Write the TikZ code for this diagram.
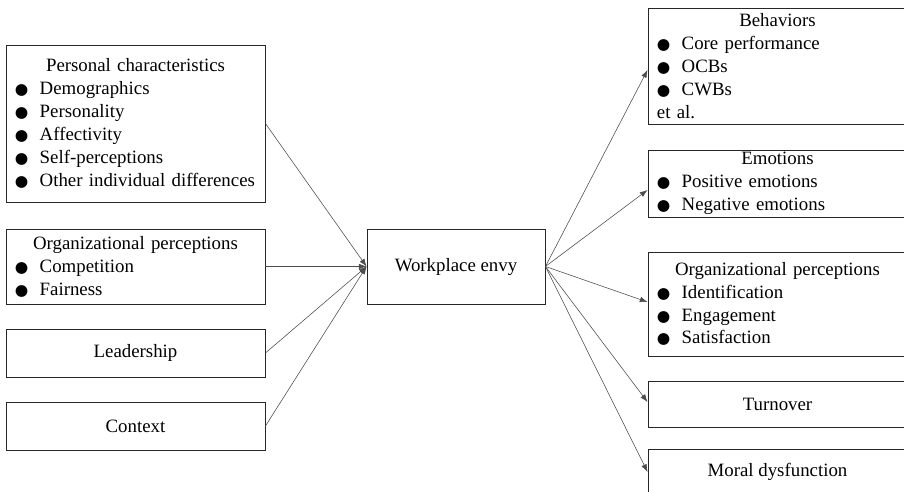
\documentclass[tikz,border=0pt]{standalone}
\usepackage{fontspec}
\setmainfont{Liberation Serif}
\newfontfamily\symf{DejaVu Sans}
\usetikzlibrary{arrows.meta}

\newcommand{\itm}{\hspace*{3.2pt}{\symf\fontsize{11}{11}\selectfont ●}\hspace{8pt}}
\newcommand{\ttl}[1]{\hspace*{\fill}#1\hspace*{\fill}\null\\}

\begin{document}
\begin{tikzpicture}[x=0.025cm, y=-0.025cm]
    % Styles
    \tikzstyle{box} = [rectangle, draw=black!85, line width=0.6pt, minimum width=6.475cm, inner xsep=0pt, inner ysep=0pt, font=\fontsize{13.4}{16.3}\selectfont]
    \tikzstyle{listbox} = [box, text width=6.25cm, align=left]
    \tikzstyle{arrow} = [-{Latex[length=5.5pt, width=4pt]}, draw=black!70, line width=0.4pt]

    \clip (0,0) rectangle (904,492);

    % Antecedents
    \node[listbox, minimum height=3.925cm] (pers) at (135.5,123.5) {\ttl{Personal characteristics}\itm Demographics\\\itm Personality\\\itm Affectivity\\\itm Self-perceptions\\\itm Other individual differences};
    \node[listbox, minimum height=1.875cm] (orgin) at (135.5,266.5) {\ttl{Organizational perceptions}\itm Competition\\\itm Fairness};
    \node[box, minimum height=1.2cm] (lead) at (135.5,353) {Leadership};
    \node[box, minimum height=1.2cm] (ctx) at (135.5,426) {Context};

    % Envy
    \node[box, minimum width=4.45cm, minimum height=1.875cm] (envy) at (456,266.5) {Workplace envy};

    % Outcomes
    \node[listbox, minimum height=2.9cm] (beh) at (777.5,66) {\ttl{Behaviors}\itm Core performance\\\itm OCBs\\\itm CWBs\\\hspace*{3.2pt}et al.};
    \node[listbox, minimum height=1.675cm] (emo) at (777.5,183.5) {\ttl{Emotions}\itm Positive emotions\\\itm Negative emotions};
    \node[listbox, minimum height=2.6cm] (orgout) at (777.5,304) {\ttl{Organizational perceptions}\itm Identification\\\itm Engagement\\\itm Satisfaction};
    \node[box, minimum height=1.15cm] (turn) at (777.5,404) {Turnover};
    \node[box, minimum height=1.15cm] (moral) at (777.5,472) {Moral dysfunction};

    % Arrows
    \draw[arrow] (pers.east) -- (envy.west);
    \draw[arrow] (orgin.east) -- (envy.west);
    \draw[arrow] (lead.east) -- (envy.west);
    \draw[arrow] (ctx.east) -- (envy.west);
    \draw[arrow] (envy.east) -- ([yshift=-2.8pt]beh.west);
    \draw[arrow] (envy.east) -- ([yshift=-4.6pt]emo.west);
    \draw[arrow] (envy.east) -- ([yshift=1.4pt]orgout.west);
    \draw[arrow] (envy.east) -- ([yshift=1.4pt]turn.west);
    \draw[arrow] (envy.east) -- (moral.west);
\end{tikzpicture}
\end{document}
